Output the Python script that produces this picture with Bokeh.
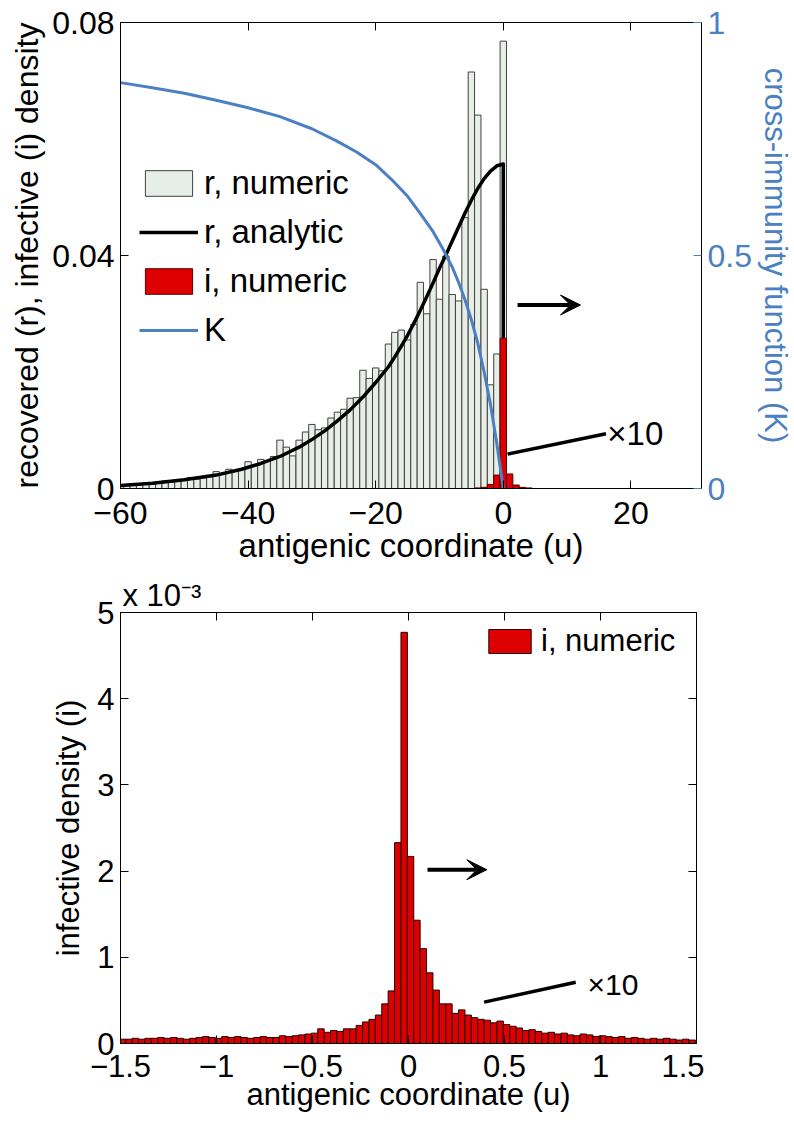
import numpy as np
from bokeh.plotting import figure
from bokeh.models import (Range1d, LinearAxis, FixedTicker, Legend, LegendItem,
                          Arrow, VeeHead, Label)
from bokeh.layouts import column
from bokeh.embed import file_html
from bokeh.resources import INLINE

FONT = "Liberation Sans"
BLUE = "#4b80c3"
RED = "#dd0000"
GREY_FILL = "#e7eee7"

# ---------------- data ----------------
# top panel: recovered density histogram, bins centred on integers
r_u = list(range(-60, 1))
r_numeric = [0.0004, 0.0005, 0.0005, 0.0006, 0.0007, 0.0008, 0.0009, 0.0013, 0.0011, 0.0012,
             0.0014, 0.0019, 0.0016, 0.0018, 0.0020, 0.0029, 0.0025, 0.0033, 0.0030, 0.0034,
             0.0046, 0.0040, 0.0050, 0.0048, 0.0055, 0.0083, 0.0071, 0.0056, 0.0083, 0.0097,
             0.0110, 0.0101, 0.0104, 0.0121, 0.0131, 0.0136, 0.0155, 0.0156, 0.0203, 0.0189,
             0.0207, 0.0202, 0.0248, 0.0268, 0.0272, 0.0255, 0.0282, 0.0354, 0.0300, 0.0393,
             0.0325, 0.0399, 0.0333, 0.0322, 0.0465, 0.0715, 0.0641, 0.0342, 0.0178, 0.0231,
             0.0768]

# analytic recovered density
ra_u = [-60, -55, -50, -45, -41, -38, -35, -32, -30, -28, -26, -24, -22, -20, -18, -17, -16,
        -15, -14, -13, -12, -11, -10, -9, -8, -7, -6, -5, -4, -3, -2, -1, 0, 0]
ra_val = [0.0005, 0.0009, 0.0015, 0.0023, 0.0033, 0.0043, 0.0055, 0.0071, 0.0084, 0.0099,
          0.0116, 0.0135, 0.0157, 0.0182, 0.0209, 0.0226, 0.0244, 0.0263, 0.0284, 0.0306,
          0.0329, 0.0353, 0.0378, 0.0401, 0.0425, 0.0449, 0.0473, 0.0495, 0.0515, 0.0532,
          0.0545, 0.0554, 0.0557, 0.0]

# infective density (top panel)
i_top_u = [-4, -3, -2, -1, 0, 1, 2, 3, 4]
i_top_val = [0.0001, 0.0002, 0.0007, 0.0023, 0.0258, 0.0025, 0.0006, 0.0002, 0.0001]

# cross-immunity function
K_u = [-60, -55, -50, -45, -40, -35, -30, -26, -23, -20, -17.5, -15, -13, -11, -9.5, -8, -7,
       -6, -5, -4, -3, -2, -1, 0]
K_val = [0.871, 0.860, 0.848, 0.833, 0.817, 0.798, 0.772, 0.745, 0.722, 0.695, 0.663, 0.627,
         0.590, 0.551, 0.515, 0.475, 0.442, 0.405, 0.362, 0.312, 0.250, 0.180, 0.095, 0.0]

# bottom panel: infective density histogram (values in units of 1e-3)
i_bin_width = 1.0 / 30.0
i_first_center = -1.4893
i_numeric_e3 = [0.05, 0.05, 0.06, 0.05, 0.06, 0.06, 0.07, 0.06, 0.07, 0.06,
                0.05, 0.06, 0.07, 0.08, 0.07, 0.06, 0.08, 0.07, 0.08, 0.07,
                0.06, 0.07, 0.08, 0.07, 0.07, 0.09, 0.08, 0.09, 0.10, 0.11,
                0.12, 0.17, 0.13, 0.15, 0.14, 0.17, 0.17, 0.21, 0.25, 0.28,
                0.33, 0.46, 0.61, 2.33, 4.77, 2.17, 1.43, 1.10, 0.82, 0.62,
                0.46, 0.46, 0.35, 0.39, 0.33, 0.30, 0.28, 0.27, 0.24, 0.26,
                0.22, 0.20, 0.18, 0.15, 0.16, 0.14, 0.12, 0.13, 0.11, 0.12,
                0.10, 0.09, 0.11, 0.10, 0.08, 0.09, 0.08, 0.07, 0.08, 0.06,
                0.07, 0.06, 0.05, 0.06, 0.05, 0.06, 0.05, 0.04, 0.05, 0.04]
i_centers = list(np.round(i_first_center + np.arange(len(i_numeric_e3)) * i_bin_width, 4))

top_xticks = [-60, -40, -20, 0, 20]
top_xlabels = ["\u221260", "\u221240", "\u221220", "0", "20"]
top_yticks = [0, 0.04, 0.08]
top_ylabels = ["0", "0.04", "0.08"]
K_ticks = [0, 0.5, 1]
K_labels = ["0", "0.5", "1"]
bot_xticks = [-1.5, -1, -0.5, 0, 0.5, 1, 1.5]
bot_xlabels = ["\u22121.5", "\u22121", "\u22120.5", "0", "0.5", "1", "1.5"]
bot_yticks = [0, 1, 2, 3, 4, 5]
bot_ylabels = ["0", "1", "2", "3", "4", "5"]


def style_axis(ax, ticks, labels, size, label_size=None, standoff=8, label_standoff=0):
    ax.ticker = FixedTicker(ticks=ticks)
    ax.major_label_overrides = {t: l for t, l in zip(ticks, labels)}
    ax.axis_line_color = "black"
    ax.axis_line_width = 1
    ax.major_tick_in = 8
    ax.major_tick_out = 0
    ax.major_tick_line_color = "black"
    ax.minor_tick_line_color = None
    ax.major_label_text_font = FONT
    ax.major_label_text_font_size = f"{size}px"
    ax.major_label_text_color = "black"
    ax.major_label_standoff = standoff
    ax.axis_label_text_font = FONT
    ax.axis_label_text_font_size = f"{label_size or size}px"
    ax.axis_label_text_font_style = "normal"
    ax.axis_label_text_color = "black"
    ax.axis_label_standoff = label_standoff


def hidden_axis(ticks, **kw):
    ax = LinearAxis(ticker=FixedTicker(ticks=ticks), **kw)
    ax.axis_line_color = "black"
    ax.major_tick_in = 8
    ax.major_tick_out = 0
    ax.major_tick_line_color = "black"
    ax.minor_tick_line_color = None
    ax.major_label_text_font_size = "0px"
    ax.major_label_text_alpha = 0
    ax.major_label_standoff = 0
    return ax


# ---------------- top panel ----------------
p1 = figure(frame_width=581, frame_height=466,
            x_range=Range1d(-60, 31.07), y_range=Range1d(0, 0.08),
            output_backend="svg", toolbar_location=None,
            min_border_left=118, min_border_top=22, min_border_right=4, min_border_bottom=0)
p1.extra_y_ranges = {"K": Range1d(0, 1)}
p1.xgrid.visible = False
p1.ygrid.visible = False
p1.outline_line_color = "black"
p1.background_fill_color = "white"

style_axis(p1.xaxis[0], top_xticks, top_xlabels, 32, 33, standoff=13, label_standoff=0)
p1.xaxis.axis_label = "antigenic coordinate (u)"
style_axis(p1.yaxis[0], top_yticks, top_ylabels, 32, 32, standoff=6, label_standoff=4)
p1.yaxis.axis_label = "recovered (r), infective (i) density"

kax = LinearAxis(y_range_name="K")
style_axis(kax, K_ticks, K_labels, 32, 31, standoff=6, label_standoff=3)
kax.axis_label = "cross-immunity function (K)"
kax.major_label_text_color = BLUE
kax.axis_label_text_color = BLUE
kax.major_tick_line_color = BLUE
p1.add_layout(kax, "right")
p1.add_layout(hidden_axis(top_xticks), "above")

r_bars = p1.vbar(x=r_u, top=r_numeric, width=1, fill_color=GREY_FILL,
                 line_color="#404040", line_width=1)
ra_line = p1.line(ra_u, ra_val, line_color="black", line_width=3.5, line_join="round")
i_bars = p1.vbar(x=i_top_u, top=i_top_val, width=1, fill_color=RED,
                 line_color="#5a0000", line_width=1)
k_line = p1.line(K_u, K_val, y_range_name="K", line_color=BLUE, line_width=3,
                 line_join="round")

leg1 = Legend(items=[LegendItem(label="r, numeric", renderers=[r_bars]),
                     LegendItem(label="r, analytic", renderers=[ra_line]),
                     LegendItem(label="i, numeric", renderers=[i_bars]),
                     LegendItem(label="K", renderers=[k_line])],
              location=(19, 139), glyph_width=59, glyph_height=32, label_height=32,
              spacing=11, padding=0, margin=0, label_standoff=6,
              label_text_font=FONT, label_text_font_size="33px", label_text_color="black",
              border_line_alpha=0, background_fill_alpha=0)
p1.add_layout(leg1, "center")

p1.add_layout(Arrow(end=VeeHead(size=20, fill_color="black", line_color="black"),
                    x_start=2.24, y_start=0.0315, x_end=12.1, y_end=0.0315,
                    line_color="black", line_width=4))
p1.add_layout(Arrow(end=None, x_start=0.67, y_start=0.0059, x_end=16.1, y_end=0.0094,
                    line_color="black", line_width=3.5))
p1.add_layout(Label(x=16.3, y=0.0094, text="\u00d710", text_font=FONT, text_color="black",
                    text_font_size="33px", text_baseline="middle", text_align="left"))

# ---------------- bottom panel ----------------
p2 = figure(frame_width=576, frame_height=431,
            x_range=Range1d(-1.5, 1.5), y_range=Range1d(0, 5),
            output_backend="svg", toolbar_location=None,
            min_border_left=120, min_border_top=46, min_border_right=8, min_border_bottom=0)
p2.xgrid.visible = False
p2.ygrid.visible = False
p2.outline_line_color = "black"

p2.title.text = "x 10\u207b\u00b3"
p2.title.align = "left"
p2.title.offset = 2
p2.title.standoff = 0
p2.title.text_font = FONT
p2.title.text_font_size = "31px"
p2.title.text_font_style = "normal"
p2.title.text_color = "black"

style_axis(p2.xaxis[0], bot_xticks, bot_xlabels, 31, 31, standoff=11, label_standoff=-3)
p2.xaxis.axis_label = "antigenic coordinate (u)"
style_axis(p2.yaxis[0], bot_yticks, bot_ylabels, 31, 31, standoff=6, label_standoff=8)
p2.yaxis.axis_label = "infective density (i)"
p2.add_layout(hidden_axis(bot_xticks), "above")
p2.add_layout(hidden_axis(bot_yticks), "right")

i2_bars = p2.vbar(x=i_centers, top=i_numeric_e3, width=i_bin_width, fill_color=RED,
                  line_color="#2a0000", line_width=1)

leg2 = Legend(items=[LegendItem(label="i, numeric", renderers=[i2_bars])],
              location=(363, 384), glyph_width=53, glyph_height=30, label_height=30,
              spacing=0, padding=0, margin=0, label_standoff=5,
              label_text_font=FONT, label_text_font_size="31px", label_text_color="black",
              border_line_alpha=0, background_fill_alpha=0)
p2.add_layout(leg2, "center")

p2.add_layout(Arrow(end=VeeHead(size=20, fill_color="black", line_color="black"),
                    x_start=0.099, y_start=2.016, x_end=0.408, y_end=2.016,
                    line_color="black", line_width=4))
p2.add_layout(Arrow(end=None, x_start=0.394, y_start=0.48, x_end=0.871, y_end=0.71,
                    line_color="black", line_width=3.5))
p2.add_layout(Label(x=0.932, y=0.68, text="\u00d710", text_font=FONT, text_color="black",
                    text_font_size="30px", text_baseline="middle", text_align="left"))

layout = column(p1, p2, spacing=0)
open("out.html", "w").write(file_html(layout, INLINE))
